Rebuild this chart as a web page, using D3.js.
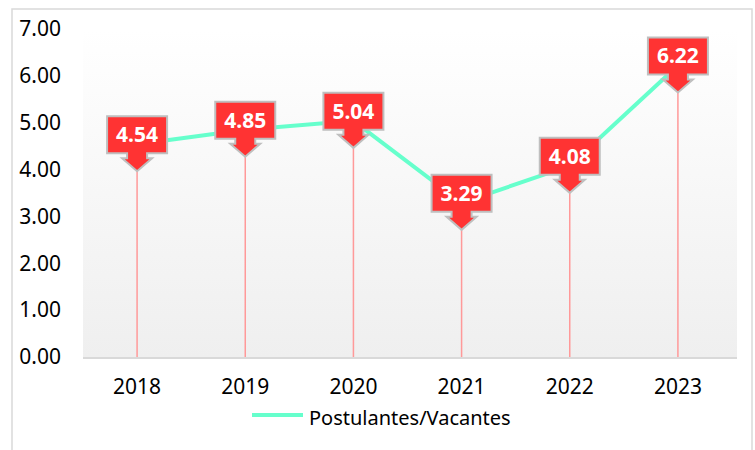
<!DOCTYPE html>
<html>
<head>
<meta charset="utf-8">
<script src="https://cdn.jsdelivr.net/npm/d3@7"></script>
<style>
  body { margin: 0; background: #fff; }
  text { font-family: "Noto Sans", "Open Sans", sans-serif; }
</style>
</head>
<body>
<div id="chart"></div>
<script>
const years = ["2018", "2019", "2020", "2021", "2022", "2023"];
const ratios = [4.54, 4.85, 5.04, 3.29, 4.08, 6.22];
const yTicks = [0, 1, 2, 3, 4, 5, 6, 7];
const seriesName = "Postulantes/Vacantes";

const width = 755, height = 450;
const plot = { left: 83, right: 732, top: 29, bottom: 357 };

const svg = d3.select("#chart").append("svg")
  .attr("width", width)
  .attr("height", height);

// outer chart frame
svg.append("rect")
  .attr("x", 12).attr("y", 9)
  .attr("width", 740).attr("height", 460)
  .attr("fill", "#fff")
  .attr("stroke", "#d9d9d9")
  .attr("stroke-width", 1.5);

const defs = svg.append("defs");
const grad = defs.append("linearGradient")
  .attr("id", "bg")
  .attr("x1", 0).attr("y1", 0).attr("x2", 0).attr("y2", 1);
grad.append("stop").attr("offset", "0%").attr("stop-color", "#ffffff");
grad.append("stop").attr("offset", "100%").attr("stop-color", "#efefef");

const x = d3.scaleBand()
  .domain(years)
  .range([plot.left, plot.right]);

const y = d3.scaleLinear()
  .domain([0, 7])
  .range([plot.bottom, plot.top]);

const cx = (d) => x(d) + x.bandwidth() / 2;

svg.append("rect")
  .attr("x", plot.left).attr("y", plot.top)
  .attr("width", plot.right - plot.left + 5)
  .attr("height", plot.bottom - plot.top)
  .attr("fill", "url(#bg)");

// y axis labels
svg.append("g")
  .selectAll("text")
  .data(yTicks)
  .join("text")
  .attr("x", 61)
  .attr("y", (d) => y(d))
  .attr("dy", "0.35em")
  .attr("text-anchor", "end")
  .attr("font-size", 21)
  .attr("fill", "#000")
  .text((d) => d3.format(".2f")(d));

// drop lines
svg.append("g")
  .selectAll("line")
  .data(years)
  .join("line")
  .attr("x1", cx).attr("x2", cx)
  .attr("y1", (d, i) => y(ratios[i]))
  .attr("y2", y(0))
  .attr("stroke", "#ff9999")
  .attr("stroke-width", 1.5);

// baseline
svg.append("line")
  .attr("x1", plot.left).attr("x2", plot.right + 5)
  .attr("y1", y(0) + 1).attr("y2", y(0) + 1)
  .attr("stroke", "#d9d9d9")
  .attr("stroke-width", 2);

// x labels
svg.append("g")
  .selectAll("text")
  .data(years)
  .join("text")
  .attr("x", cx)
  .attr("y", 387)
  .attr("dy", "0.35em")
  .attr("text-anchor", "middle")
  .attr("font-size", 21)
  .attr("fill", "#000")
  .text((d) => d);

// series line
const line = d3.line()
  .x((d) => cx(d.year))
  .y((d) => y(d.value));

svg.append("path")
  .datum(years.map((yr, i) => ({ year: yr, value: ratios[i] })))
  .attr("d", line)
  .attr("fill", "none")
  .attr("stroke", "#66ffcc")
  .attr("stroke-width", 4);

// callout labels
const bw = 60, bh = 37;
const callout = (d, i) => {
  const px = cx(d), py = y(ratios[i]);
  const top = py - 28, bot = py + 9;
  const sw = 10, hw = 15;
  return [
    [px - bw / 2, top], [px + bw / 2, top], [px + bw / 2, bot],
    [px + sw, bot], [px + sw, bot + 5], [px + hw, bot + 5],
    [px, bot + 18],
    [px - hw, bot + 5], [px - sw, bot + 5], [px - sw, bot],
    [px - bw / 2, bot]
  ].map((p) => p.join(",")).join(" ");
};

const labels = svg.append("g")
  .selectAll("g")
  .data(years)
  .join("g");

labels.append("polygon")
  .attr("points", callout)
  .attr("fill", "#ff3333")
  .attr("stroke", "#bfbfbf")
  .attr("stroke-width", 2)
  .attr("stroke-linejoin", "miter");

labels.append("text")
  .attr("x", cx)
  .attr("y", (d, i) => y(ratios[i]) - 9.5)
  .attr("dy", "0.35em")
  .attr("text-anchor", "middle")
  .attr("font-size", 21)
  .attr("font-weight", "bold")
  .attr("fill", "#fff")
  .text((d, i) => d3.format(".2f")(ratios[i]));

// legend
svg.append("line")
  .attr("x1", 252).attr("x2", 303)
  .attr("y1", 415).attr("y2", 415)
  .attr("stroke", "#66ffcc")
  .attr("stroke-width", 4);

svg.append("text")
  .attr("x", 309)
  .attr("y", 418)
  .attr("dy", "0.35em")
  .attr("font-size", 20)
  .attr("fill", "#000")
  .text(seriesName);
</script>
</body>
</html>
